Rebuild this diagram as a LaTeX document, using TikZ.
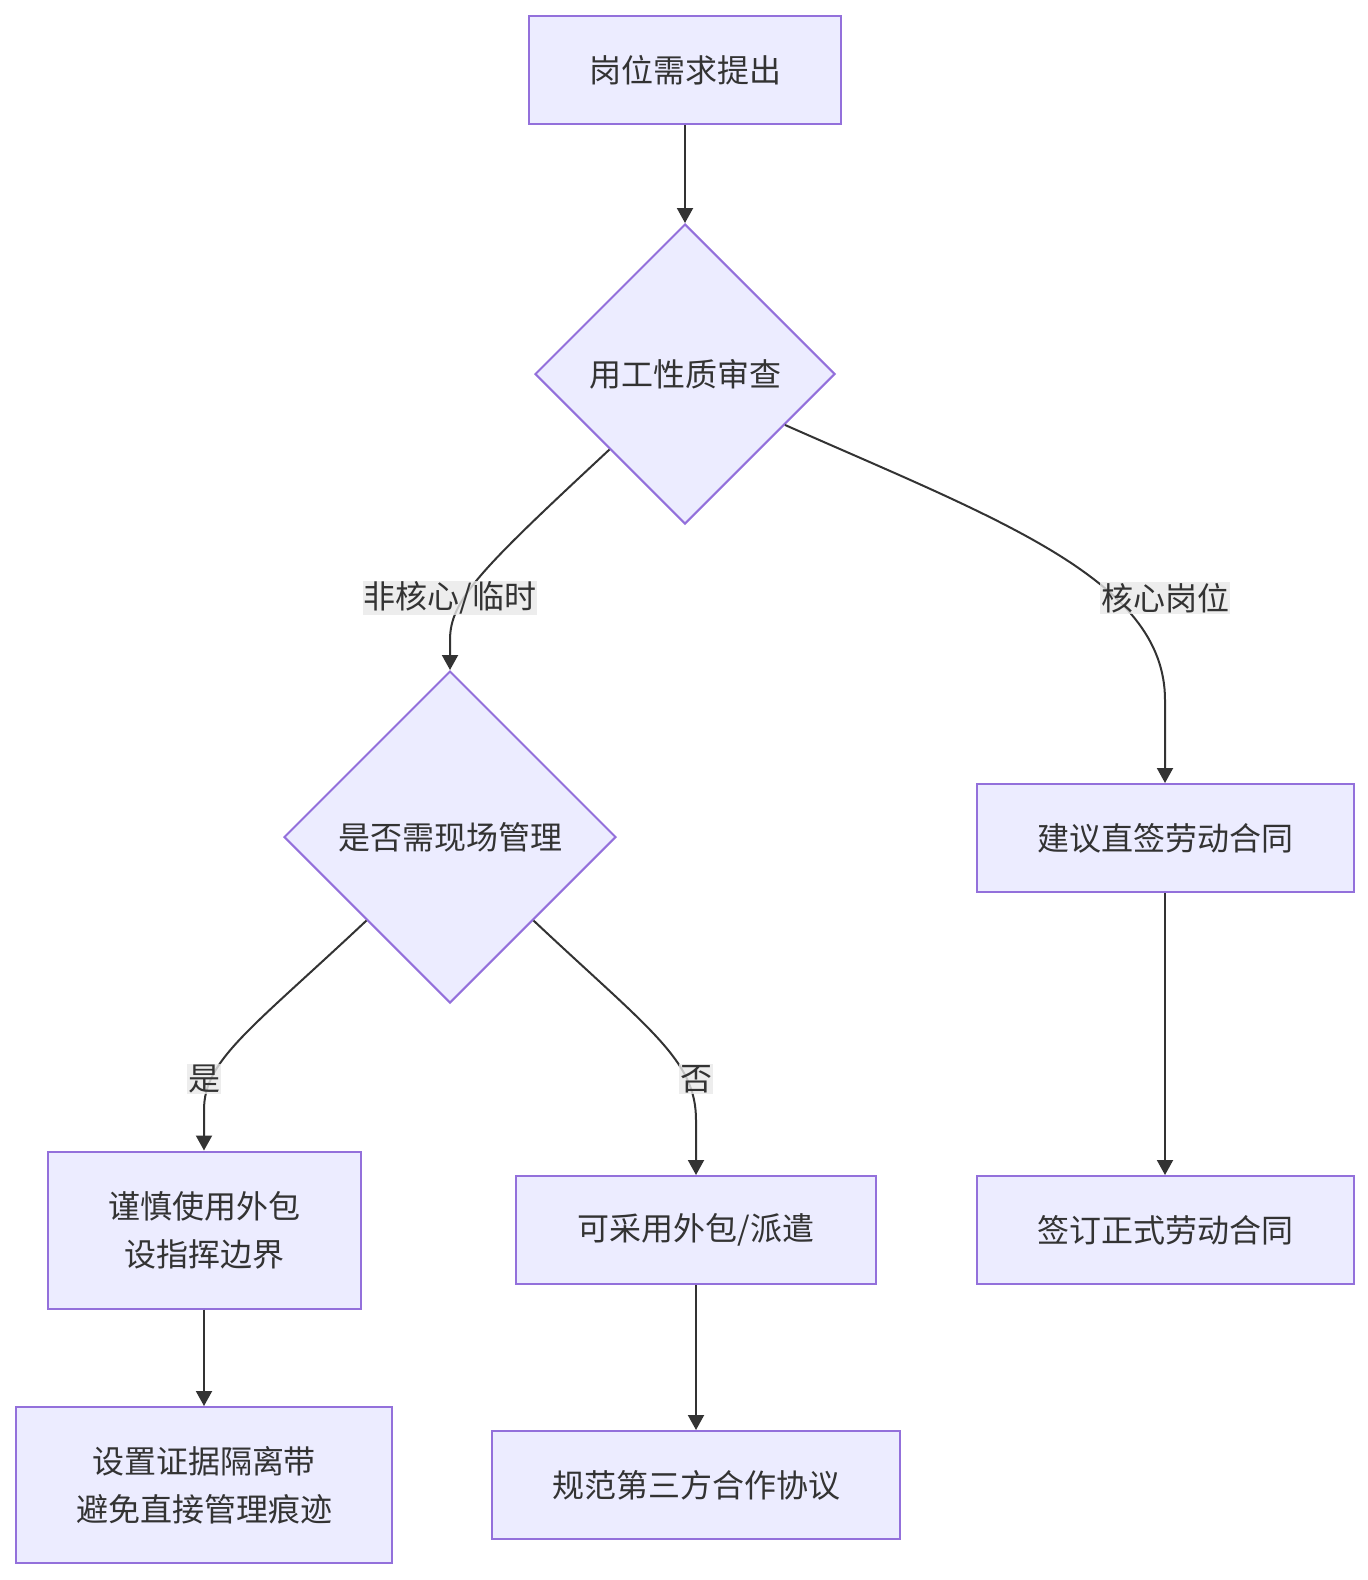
\documentclass[tikz,border=0pt]{standalone}
\usepackage{fontspec}
\setmainfont{Noto Sans CJK SC}
\usetikzlibrary{shapes.geometric, positioning, arrows.meta}
\definecolor{nodefill}{HTML}{ECECFF}
\definecolor{nodeline}{HTML}{9370DB}
\definecolor{ink}{HTML}{333333}
\definecolor{labelfill}{HTML}{E8E8E8}

\begin{document}
\begin{tikzpicture}[x=1pt, y=-1pt,
    font=\fontsize{32}{48}\selectfont, text=ink,
    box/.style={draw=nodeline, fill=nodefill, line width=2pt, minimum height=108pt, align=center, inner sep=0pt},
    choice/.style={diamond, draw=nodeline, fill=nodefill, line width=2pt, aspect=1, inner sep=0pt},
    flow/.style={draw=ink, line width=2pt, -{Triangle[length=15pt, width=16pt]}},
    tag/.style={fill=labelfill, fill opacity=0.8, text opacity=1, inner sep=1pt}]
    \useasboundingbox (0,0) rectangle (1368,1580);

    % Nodes
    \node[box, minimum width=312pt] (need) at (685,70) {岗位需求提出};
    \node[choice, minimum size=300pt] (nature) at (685,374) {用工性质审查};
    \node[choice, minimum size=332pt] (onsite) at (450,837) {是否需现场管理};
    \node[box, minimum width=377pt] (advise) at (1165,838) {建议直签劳动合同};
    \node[box, minimum width=377pt] (sign) at (1165,1230) {签订正式劳动合同};
    \node[box, minimum width=313pt, minimum height=157pt] (careful) at (204,1230) {谨慎使用外包\\设指挥边界};
    \node[box, minimum width=360pt] (outsrc) at (696,1230) {可采用外包/派遣};
    \node[box, minimum width=376pt, minimum height=156pt] (evidence) at (204,1485) {设置证据隔离带\\避免直接管理痕迹};
    \node[box, minimum width=408pt] (contract) at (696,1485) {规范第三方合作协议};

    % Straight connectors
    \draw[flow] (need.south) -- (nature.north);
    \draw[flow] (advise.south) -- (sign.north);
    \draw[flow] (careful.south) -- (evidence.north);
    \draw[flow] (outsrc.south) -- (contract.north);

    % Curved connectors
    \draw[flow] (nature.south west) .. controls (480,570) and (450,600) .. (450,640) -- (onsite.north);
    \draw[flow] (nature.-27) .. controls (1000,520) and (1165,580) .. (1165,700) -- (advise.north);
    \draw[flow] (onsite.south west) .. controls (250,1030) and (204,1060) .. (204,1110) -- (careful.north);
    \draw[flow] (onsite.south east) .. controls (650,1030) and (696,1060) .. (696,1120) -- (outsrc.north);

    % Edge labels
    \node[tag] (temp) at (450,598) {非核心/临时};
    \node[tag] (core) at (1165,598) {核心岗位};
    \node[tag] (yes) at (204,1079) {是};
    \node[tag] (no) at (696,1079) {否};
\end{tikzpicture}
\end{document}
